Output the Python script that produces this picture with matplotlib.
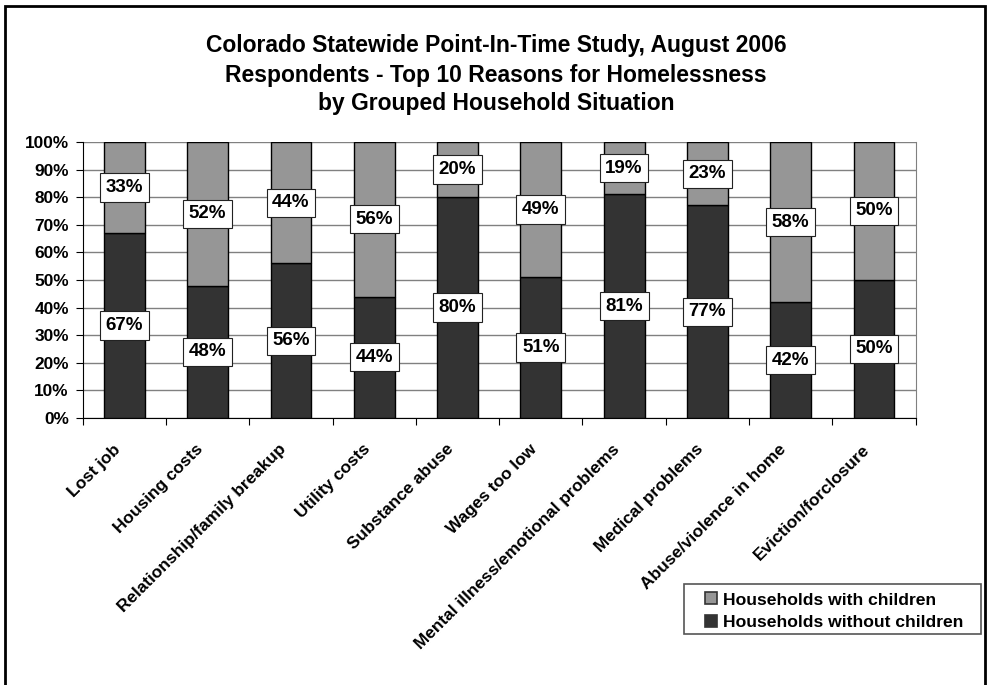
import matplotlib.pyplot as plt
import matplotlib.transforms as mtransforms
from matplotlib.lines import Line2D
from matplotlib.patches import Rectangle

plt.rcParams['font.family'] = ['Liberation Sans', 'DejaVu Sans']
plt.rcParams['font.weight'] = 'bold'

# Data
reasons = ['Lost job', 'Housing costs', 'Relationship/family breakup', 'Utility costs',
           'Substance abuse', 'Wages too low', 'Mental illness/emotional problems',
           'Medical problems', 'Abuse/violence in home', 'Eviction/forclosure']
without_children = [67, 48, 56, 44, 80, 51, 81, 77, 42, 50]
with_children = [33, 52, 44, 56, 20, 49, 19, 23, 58, 50]
yticks = [0, 10, 20, 30, 40, 50, 60, 70, 80, 90, 100]

dark = '#333333'
light = '#969696'

fig = plt.figure(figsize=(9.92, 6.85), dpi=100)
ax = fig.add_axes([0.0834, 0.3898, 0.8396, 0.4029])

x = list(range(len(reasons)))
ax.bar(x, without_children, width=0.49, color=dark, edgecolor='black', linewidth=1, zorder=3)
ax.bar(x, with_children, width=0.49, bottom=without_children, color=light, edgecolor='black',
       linewidth=1, zorder=3)

box = dict(boxstyle='square,pad=0.3', facecolor='white', edgecolor='#222222', linewidth=0.8)
for i in x:
    ax.text(i, without_children[i] / 2, f'{without_children[i]}%', ha='center', va='center',
            fontsize=13.5, fontweight='bold', bbox=box, zorder=4)
    ax.text(i, without_children[i] + with_children[i] / 2, f'{with_children[i]}%', ha='center',
            va='center', fontsize=13.5, fontweight='bold', bbox=box, zorder=4)

ax.set_xlim(-0.5, len(reasons) - 0.5)
ax.set_ylim(0, 100)
ax.set_yticks(yticks)
ax.set_yticklabels([f'{v}%' for v in yticks], fontsize=12.4, fontweight='bold')
ax.yaxis.grid(True, color='#808080', linewidth=1, zorder=0)
ax.set_axisbelow(True)

ax.set_xticks([i + 0.5 for i in range(-1, len(reasons))], minor=False)
ax.set_xticklabels([])
ax.set_xticks(x, minor=True)
ax.set_xticklabels(reasons, minor=True, rotation=45, ha='right', rotation_mode='anchor',
                   fontsize=12.4, fontweight='bold')
ax.tick_params(axis='x', which='minor', length=0, pad=17)
ax.tick_params(axis='x', which='major', length=5, color='black', direction='out')
ax.tick_params(axis='y', length=5, color='black', direction='out', pad=5)

# nudge rotated labels a little to the left
shift = mtransforms.ScaledTranslation(-12 / 100, 0, fig.dpi_scale_trans)
for lab in ax.get_xticklabels(minor=True):
    lab.set_transform(lab.get_transform() + shift)

ax.spines['left'].set_color('black')
ax.spines['bottom'].set_color('black')
ax.spines['top'].set_visible(False)
ax.spines['right'].set_color('#808080')

fig.text(0.5, 0.934, 'Colorado Statewide Point-In-Time Study, August 2006',
         ha='center', va='center', fontsize=16.5, fontweight='bold')
fig.text(0.5, 0.890, 'Respondents - Top 10 Reasons for Homelessness',
         ha='center', va='center', fontsize=16.5, fontweight='bold')
fig.text(0.5, 0.849, 'by Grouped Household Situation',
         ha='center', va='center', fontsize=16.5, fontweight='bold')

handles = [Line2D([], [], linestyle='none', marker='s', markersize=8, markerfacecolor=light,
                  markeredgecolor='#333333', markeredgewidth=1.2, label='Households with children'),
           Line2D([], [], linestyle='none', marker='s', markersize=8, markerfacecolor=dark,
                  markeredgecolor='#333333', markeredgewidth=1.2,
                  label='Households without children')]
leg = fig.legend(handles=handles, loc='center left', bbox_to_anchor=(0.7097, 0.108),
                 fontsize=12.6, frameon=False, handlelength=0.8, handletextpad=0.3,
                 borderpad=0, labelspacing=0.4, borderaxespad=0)
for t in leg.get_texts():
    t.set_fontweight('bold')

fig.patches.append(Rectangle((0.6895, 0.0745), 0.2994, 0.073, transform=fig.transFigure,
                             fill=False, edgecolor='#555555', linewidth=1.2))
fig.patches.append(Rectangle((0.005, -0.05), 0.988, 1.041, transform=fig.transFigure,
                             fill=False, edgecolor='black', linewidth=2))

fig.savefig('out.png', dpi=100)
